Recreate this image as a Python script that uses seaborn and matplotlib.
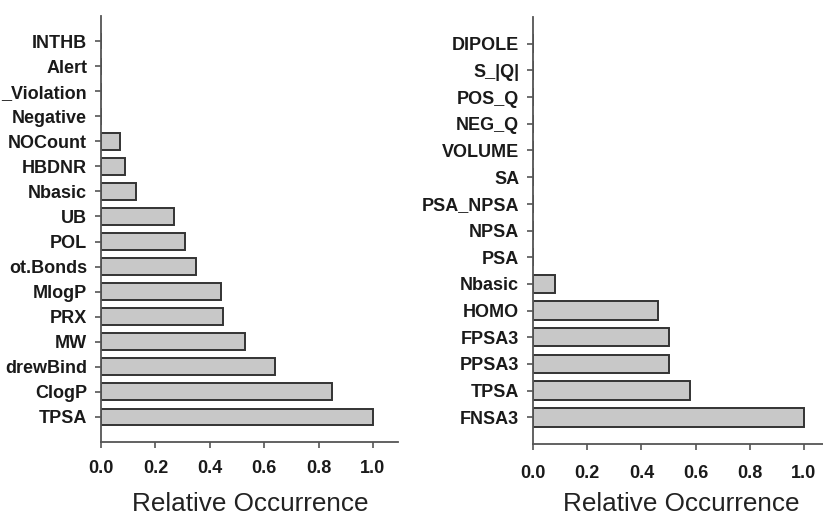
import matplotlib
matplotlib.use("Agg")
import matplotlib.pyplot as plt
import seaborn as sns
import pandas as pd

# Labels as they appear in the (cropped) reference image
left_labels = ["INTHB", "Alert", "_Violation", "Negative", "NOCount", "HBDNR",
               "Nbasic", "UB", "POL", "ot.Bonds", "MlogP", "PRX", "MW",
               "drewBind", "ClogP", "TPSA"]
left_values = [0, 0, 0, 0, 0.07, 0.09, 0.13, 0.27, 0.31, 0.35, 0.44, 0.45, 0.53,
               0.64, 0.85, 1.0]

right_labels = ["DIPOLE", "S_|Q|", "POS_Q", "NEG_Q", "VOLUME", "SA", "PSA_NPSA",
                "NPSA", "PSA", "Nbasic", "HOMO", "FPSA3", "PPSA3", "TPSA", "FNSA3"]
right_values = [0, 0, 0, 0, 0, 0, 0, 0, 0, 0.08, 0.46, 0.50, 0.50, 0.58, 1.0]

xticks = [0.0, 0.2, 0.4, 0.6, 0.8, 1.0]
xlabel = "Relative Occurrence"

sns.set_theme(style="ticks")
plt.rcParams["font.family"] = ["Liberation Sans", "DejaVu Sans"]

fig = plt.figure(figsize=(8.23, 5.18), dpi=100)
W, H = 823, 518

def px_axes(x0, x1, ytop, ybot):
    return fig.add_axes([x0 / W, 1 - ybot / H, (x1 - x0) / W, (ybot - ytop) / H])

ax1 = px_axes(101, 398, 16, 442)
ax2 = px_axes(533, 823, 17, 444)

spine_col = "#555555"

def draw(ax, labels, values, xmax, width, xpad):
    df = pd.DataFrame({"label": labels, "value": values})
    sns.barplot(data=df, x="value", y="label", order=labels, orient="h",
                color="#c8c8c8", edgecolor="#333333", linewidth=1.4,
                width=width, saturation=1, ax=ax)
    n = len(labels)
    ax.set_ylim(n, -1)
    ax.set_xlim(0, xmax)
    ax.set_xticks(xticks)
    ax.set_xticklabels([f"{t:.1f}" for t in xticks])
    ax.set_ylabel("")
    ax.set_xlabel(xlabel, fontsize=18.8, color="#222222")
    for s in ["top", "right"]:
        ax.spines[s].set_visible(False)
    for s in ["left", "bottom"]:
        ax.spines[s].set_color(spine_col)
        ax.spines[s].set_linewidth(1.3)
    ax.tick_params(axis="y", direction="out", length=4, width=1.2,
                   color=spine_col, labelsize=13, pad=6, labelcolor="#1a1a1a")
    ax.tick_params(axis="x", direction="out", length=4, width=1.2,
                   color=spine_col, labelsize=13, pad=xpad, labelcolor="#1a1a1a")
    for t in ax.get_xticklabels() + ax.get_yticklabels():
        t.set_fontweight("bold")

draw(ax1, left_labels, left_values, 1.092, 0.67, 9)
draw(ax2, right_labels, right_values, (823 - 533) / 271, 0.69, 11)

# axis title positions (axes fraction; label is top-aligned)
ax1.xaxis.set_label_coords(0.503, -0.117)
ax2.xaxis.set_label_coords(0.51, -0.113)

fig.savefig("out.png", dpi=100)
